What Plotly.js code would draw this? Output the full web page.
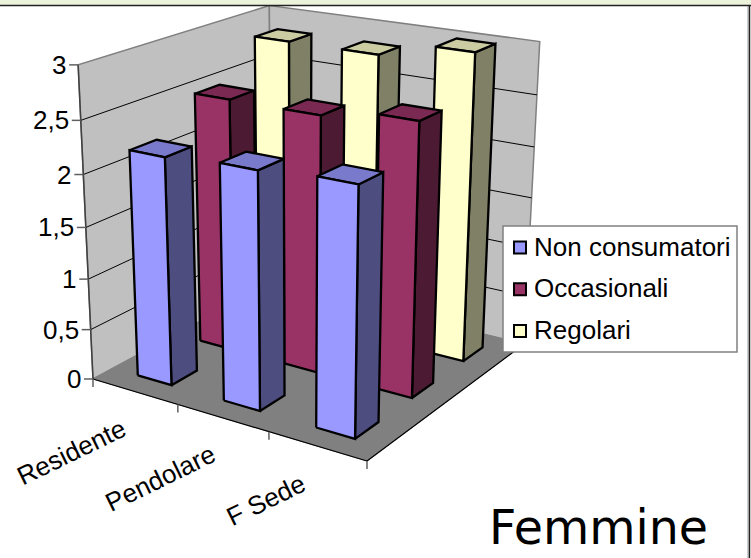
<!DOCTYPE html>
<html><head><meta charset="utf-8">
<script src="https://cdn.plot.ly/plotly-3.0.0.min.js"></script>
<style>html,body{margin:0;padding:0;background:#fff}#c{width:751px;height:558px}</style>
</head><body><div id="c"></div>
<script>
const categories = ["Residente","Pendolare","F Sede"];
const seriesNames = ["Non consumatori","Occasionali","Regolari"];
const nonConsumatori = [2.2,2.25,2.3];
const occasionali = [2.5,2.5,2.6];
const regolari = [2.85,2.85,3.0];
const valueTicks = [0,0.5,1,1.5,2,2.5,3];
const valueTickLabels = ["0","0,5","1","1,5","2","2,5","3"];
const seriesValues = [nonConsumatori,occasionali,regolari];

// Style
const faceColors=[["#9999FF","#4D4D80","#7A7ACC"],["#993366","#4D1A33","#7A2952"],["#FFFFCC","#808066","#CCCCA3"]];
const labelOffsets=[[-63,61],[-62,60],[-51,54]];
const FONT="Liberation Sans, Arial, sans-serif";

// Oblique 3D projection of the chart box (category, series, value) onto the plot plane,
// fitted to the box corners of the view.
const A=[93,379],B=[367,461],C=[524,344],D=[271,283],At=[77,65],Dt=[271,6],Ct=[539,41];
const nX=categories.length,nY=seriesNames.length,maxZ=3;
function homography(p0,p1,p2,p3){
  const dx1=p1[0]-p2[0],dx2=p3[0]-p2[0],dx3=p0[0]-p1[0]+p2[0]-p3[0];
  const dy1=p1[1]-p2[1],dy2=p3[1]-p2[1],dy3=p0[1]-p1[1]+p2[1]-p3[1];
  const den=dx1*dy2-dx2*dy1,g=(dx3*dy2-dx2*dy3)/den,h=(dx1*dy3-dx3*dy1)/den;
  return {a:p1[0]-p0[0]+g*p1[0],b:p3[0]-p0[0]+h*p3[0],c:p0[0],d:p1[1]-p0[1]+g*p1[1],e:p3[1]-p0[1]+h*p3[1],f:p0[1],g,h};
}
const H=homography(A,B,C,D);
function solve3(M,v){
  const m=M.map((r,i)=>[...r,v[i]]);
  for(let i=0;i<3;i++){let k=i;for(let j=i+1;j<3;j++)if(Math.abs(m[j][i])>Math.abs(m[k][i]))k=j;
    [m[i],m[k]]=[m[k],m[i]];
    for(let j=0;j<3;j++)if(j!==i){const f=m[j][i]/m[i][i];for(let l=i;l<4;l++)m[j][l]-=f*m[i][l];}}
  return m.map((r,i)=>r[3]/r[i]);
}
const Z=(function(){
  const rows=[],rhs=[];
  [[0,0,At],[0,1,Dt],[1,1,Ct]].forEach(([x,y,p])=>{
    const w=H.g*x+H.h*y+1,nu=H.a*x+H.b*y+H.c,nv=H.d*x+H.e*y+H.f;
    rows.push([1,0,-p[0]]);rhs.push(p[0]*w-nu);
    rows.push([0,1,-p[1]]);rhs.push(p[1]*w-nv);
  });
  const M=[[0,0,0],[0,0,0],[0,0,0]],v=[0,0,0];
  rows.forEach((r,k)=>{for(let i=0;i<3;i++){v[i]+=r[i]*rhs[k];for(let j=0;j<3;j++)M[i][j]+=r[i]*r[j];}});
  return solve3(M,v);
})();
function proj(cx,sy,val){
  const x=cx/nX,y=sy/nY,t=val/maxZ,w=H.g*x+H.h*y+1+Z[2]*t;
  return [(H.a*x+H.b*y+H.c+Z[0]*t)/w,(H.d*x+H.e*y+H.f+Z[1]*t)/w];
}
const traces=[];
function poly(pts,fill,lineColor,lineWidth){
  const c=pts.concat([pts[0]]);
  traces.push({type:"scatter",mode:"lines",x:c.map(p=>p[0]),y:c.map(p=>p[1]),fill:"toself",fillcolor:fill,
    line:{color:lineColor,width:lineWidth},showlegend:false,hoverinfo:"skip"});
}
function seg(p,q,color,width){
  traces.push({type:"scatter",mode:"lines",x:[p[0],q[0]],y:[p[1],q[1]],line:{color,width},showlegend:false,hoverinfo:"skip"});
}
// Walls and floor
poly([proj(0,0,0),proj(0,nY,0),proj(0,nY,maxZ),proj(0,0,maxZ)],"#C0C0C0","#808080",1.5);
poly([proj(0,nY,0),proj(nX,nY,0),proj(nX,nY,maxZ),proj(0,nY,maxZ)],"#C0C0C0","#808080",1.5);
poly([proj(0,0,0),proj(nX,0,0),proj(nX,nY,0),proj(0,nY,0)],"#808080","#808080",1);
valueTicks.slice(1,-1).forEach(z=>{
  seg(proj(0,0,z),proj(0,nY,z),"#000",1);
  seg(proj(0,nY,z),proj(nX,nY,z),"#000",1);
});
seg(proj(0,0,0),proj(0,0,maxZ),"#404040",1.5);
seg(proj(0,0,0),proj(nX,0,0),"#000",1.2);
seg(proj(nX,0,0),proj(nX,nY,0),"#000",1.2);
// Ticks
valueTicks.forEach(z=>{const p=proj(0,0,z);seg([p[0]-9,p[1]],p,"#606060",1.5);});
for(let i=0;i<=nX;i++){const p=proj(i,0,0);seg(p,[p[0],p[1]+8],"#606060",1.5);}
// Bars, back to front
const gap=0.3,lw=2.3;
for(let s=nY-1;s>=0;s--){
  for(let c=0;c<nX;c++){
    const v=seriesValues[s][c],x0=c+gap,x1=c+1-gap,y0=s+gap,y1=s+1-gap,col=faceColors[s];
    poly([proj(x1,y0,0),proj(x1,y1,0),proj(x1,y1,v),proj(x1,y0,v)],col[1],"#000",lw);
    poly([proj(x0,y0,v),proj(x1,y0,v),proj(x1,y1,v),proj(x0,y1,v)],col[2],"#000",lw);
    poly([proj(x0,y0,0),proj(x1,y0,0),proj(x1,y0,v),proj(x0,y0,v)],col[0],"#000",lw);
  }
}
// Legend entries
seriesNames.forEach((n,s)=>traces.push({type:"scatter",mode:"markers",x:[-50],y:[-50],name:n,legendgroup:n,
  marker:{symbol:"square",size:14,color:faceColors[s][0],line:{color:"#000",width:2}}}));
const annotations=[];
valueTicks.forEach((z,i)=>{const p=proj(0,0,z);annotations.push({x:p[0]-10,y:p[1],text:valueTickLabels[i],showarrow:false,xanchor:"right",yanchor:"middle",font:{family:FONT,size:26,color:"#000"}});});
categories.forEach((n,i)=>{const p=proj(i+0.5,0,0);annotations.push({x:p[0]+labelOffsets[i][0],y:p[1]+labelOffsets[i][1],text:n,showarrow:false,textangle:-26,font:{family:FONT,size:26,color:"#000"}});});
annotations.push({x:598.5,y:557,text:"Femmine",showarrow:false,xanchor:"center",yanchor:"bottom",font:{family:"DejaVu Sans",size:47.5,color:"#000"}});
const layout={width:751,height:558,margin:{l:0,r:0,t:0,b:0},paper_bgcolor:"#fff",plot_bgcolor:"#fff",
  xaxis:{range:[0,751],visible:false,fixedrange:true},yaxis:{range:[558,0],visible:false,fixedrange:true},
  showlegend:true,
  legend:{x:494/751,y:1-222/558,xanchor:"left",yanchor:"top",bgcolor:"rgba(0,0,0,0)",borderwidth:0,tracegroupgap:5,
    font:{family:FONT,size:26,color:"#000"},itemsizing:"constant",itemwidth:30},
  shapes:[
    {type:"rect",xref:"paper",yref:"paper",x0:503/751,x1:737/751,y0:1-352/558,y1:1-226/558,fillcolor:"#fff",line:{color:"#808080",width:1.5},layer:"above"},
    {type:"rect",xref:"paper",yref:"paper",x0:0,x1:1,y0:1-5/558,y1:1,fillcolor:"#EBF3DA",line:{width:0},layer:"above"},
    {type:"line",xref:"paper",yref:"paper",x0:0,x1:1,y0:1-5.5/558,y1:1-5.5/558,line:{color:"#222",width:1.5},layer:"above"},
    {type:"line",xref:"paper",yref:"paper",x0:748/751,x1:748/751,y0:0,y1:1-6/558,line:{color:"#999",width:1},layer:"above"},
    {type:"line",xref:"paper",yref:"paper",x0:749.5/751,x1:749.5/751,y0:0,y1:1-5/558,line:{color:"#222",width:1.5},layer:"above"}
  ],
  annotations};
Plotly.newPlot("c",traces,layout,{displayModeBar:false,staticPlot:true}).then(()=>{
  document.querySelectorAll(".legendpoints").forEach(g=>g.setAttribute("transform","translate(6,2)"));
});
</script></body></html>
